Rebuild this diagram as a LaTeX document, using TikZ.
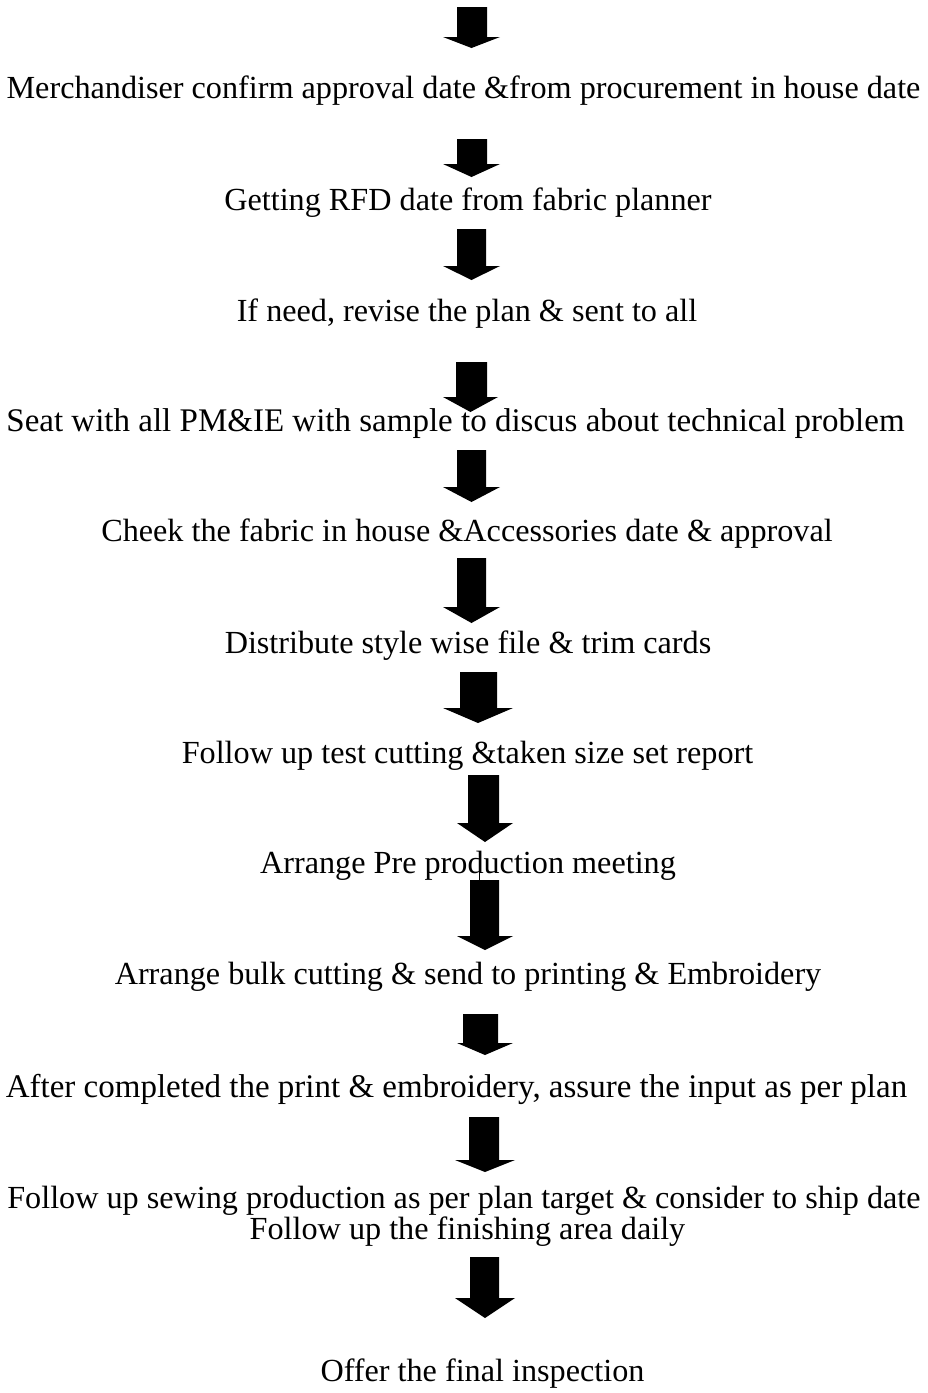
\documentclass[tikz,border=0pt]{standalone}
\usepackage{fontspec}
\setmainfont{Liberation Serif}
% block arrow: shaft left/right x, top y, head start y, head left/right x, tip y
\newcommand\blockarrowdown[7]{%
  \fill[blockarrow] (#1,#3) -- (#2,#3) -- (#2,#4) -- (#6,#4) -- ({(#5+#6)/2},#7)
    -- (#5,#4) -- (#1,#4) -- cycle;}
\begin{document}
\begin{tikzpicture}[x=1pt,y=-1pt,
  steptext/.style={inner sep=0pt, font=\fontsize{32.2}{37}\selectfont},
  widetext/.style={inner sep=0pt, font=\fontsize{33}{38}\selectfont},
  blockarrow/.style={black}]
\fill[white] (0,0) rectangle (927,1393);
\useasboundingbox (0,0) rectangle (927,1393);

% process steps
\node[steptext]  (s1)  at (463.5,91)  {Merchandiser confirm approval date \&from procurement in house date};
\node[steptext]  (s2)  at (468,203)   {Getting RFD date from fabric planner};
\node[steptext]  (s3)  at (467,314)   {If need, revise the plan \& sent to all};
\node[widetext]  (s4)  at (455.5,424) {Seat with all PM\&IE with sample to discus about technical problem};
\node[steptext]  (s5)  at (467,534)   {Cheek the fabric in house \&Accessories date \& approval};
\node[steptext]  (s6)  at (468,646)   {Distribute style wise file \& trim cards};
\node[steptext]  (s7)  at (467.5,756) {Follow up test cutting \&taken size set report};
\node[steptext]  (s8)  at (468,866)   {Arrange Pre production meeting};
\node[steptext]  (s9)  at (468,977)   {Arrange bulk cutting \& send to printing \& Embroidery};
\node[widetext]  (s10) at (456.5,1089){After completed the print \& embroidery, assure the input as per plan};
\node[steptext]  (s11) at (464,1201)  {Follow up sewing production as per plan target \& consider to ship date};
\node[steptext]  (s12) at (467.5,1232){Follow up the finishing area daily};
\node[steptext]  (s13) at (482.5,1374){Offer the final inspection};

% arrows between the steps
\blockarrowdown{457}{487}{7}{37}{443}{500}{48}
\blockarrowdown{457}{487}{139}{164}{443}{500}{177}
\blockarrowdown{457}{486}{229}{266}{443}{500}{280}
\blockarrowdown{456}{487}{362}{397}{443}{498}{412}
\blockarrowdown{457}{486}{450}{487}{443}{500}{502}
\blockarrowdown{457}{486}{558}{607}{443}{500}{623}
\blockarrowdown{460}{497}{672}{708}{443}{513}{723}
\blockarrowdown{468}{499}{775}{823}{457}{513}{842}
\draw[blockarrow, line width=0.8pt] (479,852) -- (479,880);
\blockarrowdown{470}{499}{880}{936}{457}{513}{950}
\blockarrowdown{463}{498}{1014}{1043}{457}{513}{1055}
\blockarrowdown{469}{499}{1117}{1160}{455}{515}{1172}
\blockarrowdown{470}{499}{1257}{1298}{455}{515}{1318}
\end{tikzpicture}
\end{document}
